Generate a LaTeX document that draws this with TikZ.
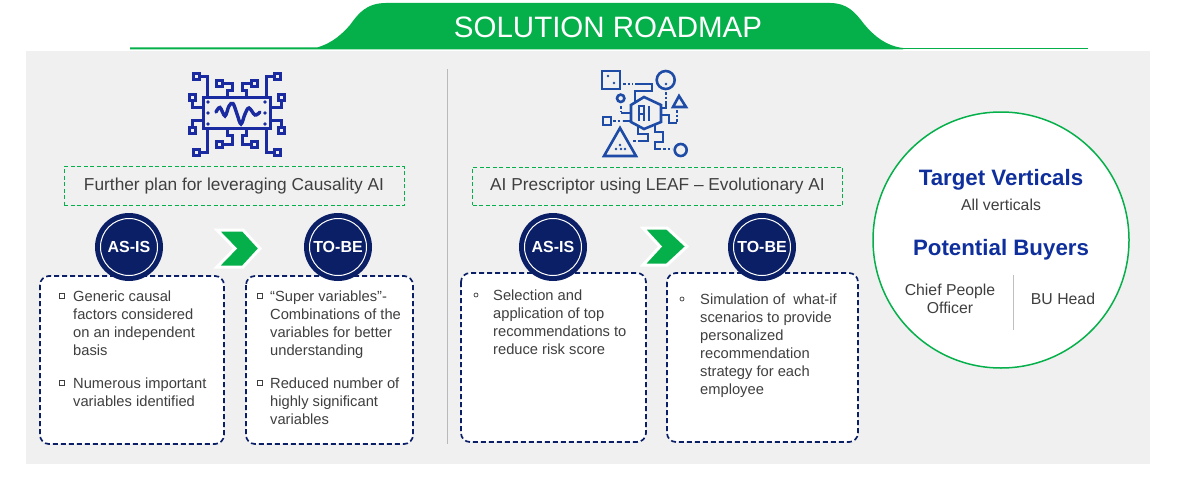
\documentclass[tikz,border=0pt]{standalone}
\usepackage{fontspec}
\setmainfont{Liberation Sans}
\definecolor{grn}{HTML}{05B04A}
\definecolor{navy}{HTML}{0B1F66}
\definecolor{blu}{HTML}{0F2F9C}
\definecolor{icoa}{HTML}{1A2AA0}
\definecolor{icob}{HTML}{1E4BA6}
\definecolor{panel}{HTML}{F0F0F0}
\definecolor{txt}{HTML}{3F3F3F}
\tikzset{
 ring/.style={circle,draw=white,line width=1pt,minimum size=57pt,inner sep=0pt},
 card/.style={draw=navy,line width=1.7pt,dash pattern=on 5pt off 3pt,rounded corners=9pt,fill=white},
 head/.style={draw=grn,line width=1pt,dash pattern=on 4pt off 2.5pt,fill=panel,font=\fontsize{17.3}{20}\selectfont,text=txt,inner sep=0pt},
 body/.style={anchor=north west,align=left,inner sep=0pt,text=txt,font=\fontsize{14.7}{18}\selectfont},
 bul/.style={draw=txt,line width=.7pt,fill=white,minimum size=5pt,inner sep=0pt},
 bulc/.style={circle,draw=txt,line width=.7pt,fill=white,minimum size=4pt,inner sep=0pt},
 chev/.style={fill=grn,draw=white,line width=3pt,line join=miter},
 vert/.style={font=\fontsize{22.3}{25}\selectfont\bfseries,text=blu},
 buyer/.style={font=\fontsize{15.8}{18}\selectfont,text=txt,align=center},
}
\begin{document}
\begin{tikzpicture}[x=1pt,y=-1pt]
\useasboundingbox (0,0) rectangle (1180,487);
\fill[white] (0,0) rectangle (1180,487);
\fill[panel] (26,51) rectangle (1150,464);
% banner
\fill[grn] (130,47.5) -- (317,47.5) .. controls (333,43) and (343,33) .. (350,25)
 .. controls (358,14) and (366,3) .. (386,3) -- (830,3)
 .. controls (847,3) and (855,12) .. (864,24) .. controls (874,36) and (886,46) .. (903,48)
 -- (903,49.5) -- (130,49.5) -- cycle;
\fill[grn] (903,47.6) rectangle (1088,49.3);
\node[text=white,font=\fontsize{29.5}{32}\selectfont] (title) at (608,27) {SOLUTION ROADMAP};
% divider
\draw[draw=gray!55,line width=.8pt] (447,69) -- (447,444);
% head boxes
\node[head,minimum width=340pt,minimum height=39pt] (h1) at (234,186) {\raisebox{-1.5pt}{Further plan for leveraging Causality AI}};
\node[head,minimum width=370pt,minimum height=38pt] (h2) at (657.5,186) {\raisebox{-1.5pt}{AI Prescriptor using LEAF – Evolutionary AI}};
% cards
\draw[card] (40,276) rectangle (224,444);
\draw[card] (246,276) rectangle (413,444);
\draw[card] (461,273) rectangle (646,442);
\draw[card] (667,273) rectangle (858,442);
% badges
\foreach \n/\x/\y/\t in {a/129/247/AS-IS,b/338/247/TO-BE,c/553/247/AS-IS,d/762/247/TO-BE}{
 \node[ring,fill=navy,draw=none,minimum size=68pt] at (\x,\y) {};
 \node[ring] (\n) at (\x,\y) {};
 \node[text=white,font=\fontsize{16}{18}\selectfont\bfseries] at (\x,\y) {\t};
}
% chevrons
\draw[chev] (217,230) -- (243,230) -- (260,248.5) -- (243,267) -- (217,267) -- (235,248.5) -- cycle;
\draw[chev] (643,228) -- (667,228) -- (687,246.5) -- (667,265) -- (643,265) -- (660,246.5) -- cycle;
% card text
\node[bul] (b1) at (62,296) {};
\node[body] (t1) at (73,291) {Generic causal\\factors considered\\on an independent\\basis};
\node[bul] (b2) at (62,383) {};
\node[body] (t2) at (73,378) {Numerous important\\variables identified};
\node[bul] (b3) at (260,296) {};
\node[body] (t3) at (270,291) {“Super variables”-\\Combinations of the\\variables for better\\understanding};
\node[bul] (b4) at (260,383) {};
\node[body] (t4) at (270,378) {Reduced number of\\highly significant\\variables};
\node[bulc] (b5) at (476,295) {};
\node[body] (t5) at (493,289.5) {Selection and\\application of top\\recommendations to\\reduce risk score};
\node[bulc] (b6) at (682,299) {};
\node[body] (t6) at (700,293.5) {Simulation of \ what-if\\scenarios to provide\\personalized\\recommendation\\strategy for each\\employee};
% right circle
\node[circle,draw=grn,line width=1.5pt,fill=white,minimum size=256pt,inner sep=0pt] (tv) at (1001,240) {};
\node[vert] (tv1) at (1001,180) {Target Verticals};
\node[font=\fontsize{15.8}{18}\selectfont,text=txt] (tv2) at (1001,205) {All verticals};
\node[vert] (tv3) at (1001,250) {Potential Buyers};
\node[buyer] (p1) at (950,299) {Chief People\\Officer};
\node[buyer] (p2) at (1063,299) {BU Head};
\draw[draw=gray!50,line width=.8pt] (1013,275) -- (1013,330);
% icon 1: chip
\begin{scope}[draw=icoa,line width=3pt,line join=miter]
\draw (203,97) rectangle (270,128);
\draw[line width=3.4pt,line cap=round] plot[smooth,tension=.6] coordinates {(216,112) (220,107.5) (225,116) (229,106) (233,103.5) (237,114) (241,124) (245,114) (249,108) (255,115) (260,112)};
\foreach \yy in {102,113,124}{\fill[icoa] (208,\yy) circle (1.8); \fill[icoa] (265,\yy) circle (1.8);}
\draw (193,73) rectangle (199,79); \draw (199,76) -- (207,76) -- (207,97);
\draw (189,94) rectangle (195,100); \draw (192,100) -- (192,107) -- (203,107);
\draw (189,127) rectangle (195,133); \draw (192,127) -- (192,120) -- (203,120);
\draw (193,149) rectangle (199,155); \draw (199,152) -- (207,152) -- (207,128);
\draw (216,80) rectangle (222,86); \draw (222,83) -- (232,83) -- (232,90) -- (227,90) -- (227,97);
\draw (216,141) rectangle (222,147); \draw (222,144) -- (232,144) -- (232,135) -- (227,135) -- (227,128);
\draw (251,80) rectangle (257,86); \draw (251,83) -- (242,83) -- (242,90) -- (246,90) -- (246,97);
\draw (251,141) rectangle (257,147); \draw (251,144) -- (242,144) -- (242,135) -- (246,135) -- (246,128);
\draw (274,73) rectangle (280,79); \draw (274,76) -- (266,76) -- (266,97);
\draw (278,94) rectangle (284,100); \draw (281,100) -- (281,107) -- (270,107);
\draw (278,127) rectangle (284,133); \draw (281,127) -- (281,120) -- (270,120);
\draw (274,149) rectangle (280,155); \draw (274,152) -- (266,152) -- (266,128);
\end{scope}
% icon 2: AI
\begin{scope}[draw=icob,line width=2.6pt,line join=miter]
\draw (602,71) rectangle (620,89);
\fill[icob] (608,76) circle (1.4) (614,83) circle (1.4) (666,84) circle (1.4);
\draw (665.7,80) circle (9);
\draw (620.7,98.3) circle (3.7);
\draw (603,117) rectangle (611,125);
\draw (620,128) -- (604,156) -- (636,156) -- cycle;
\fill[icob] (620,145) circle (1.4) (616,149) circle (1.4) (621,149) circle (1.4) (625,149) circle (1.4);
\draw (680.7,150) circle (6);
\draw (679,96) -- (686,107) -- (673,107) -- cycle;
\draw (644,97) -- (661,105) -- (661,122) -- (644,129) -- (631,122) -- (631,105) -- cycle;
% letters
\draw[line width=2.3pt] (639,121) -- (639,106) -- (644,106) -- (644,121) (639,114) -- (644,114) (649,106) -- (649,121);
\draw[dash pattern=on 2.5pt off 2pt] (623,84) -- (633,84);
\draw (635,84) -- (652,84) -- (652,91) -- (635,91) -- (635,102);
\draw[dash pattern=on 2.5pt off 2pt] (666,92) -- (666,102);
\draw (666,102) -- (666,108) -- (661,108);
\draw[dash pattern=on 2.5pt off 2pt] (621,106) -- (621,112);
\draw (621,113) -- (631,113);
\draw[dash pattern=on 2.5pt off 2pt] (613,121) -- (622,121);
\draw (623,121) -- (631,121);
\draw[dash pattern=on 2.5pt off 2pt] (677,110) -- (677,122);
\draw (677,123) -- (669,123) -- (669,115) -- (661,115);
\draw[dash pattern=on 2.5pt off 2pt] (633,141) -- (640,141);
\draw (640,141) -- (648,141) -- (648,134) -- (638,134) -- (638,127);
\draw (655,125) -- (655,132) -- (663,132) -- (663,142) -- (655,142) -- (655,149) -- (661,149);
\draw[dash pattern=on 2.5pt off 2pt] (663,149) -- (672,149);
\end{scope}
\end{tikzpicture}
\end{document}
